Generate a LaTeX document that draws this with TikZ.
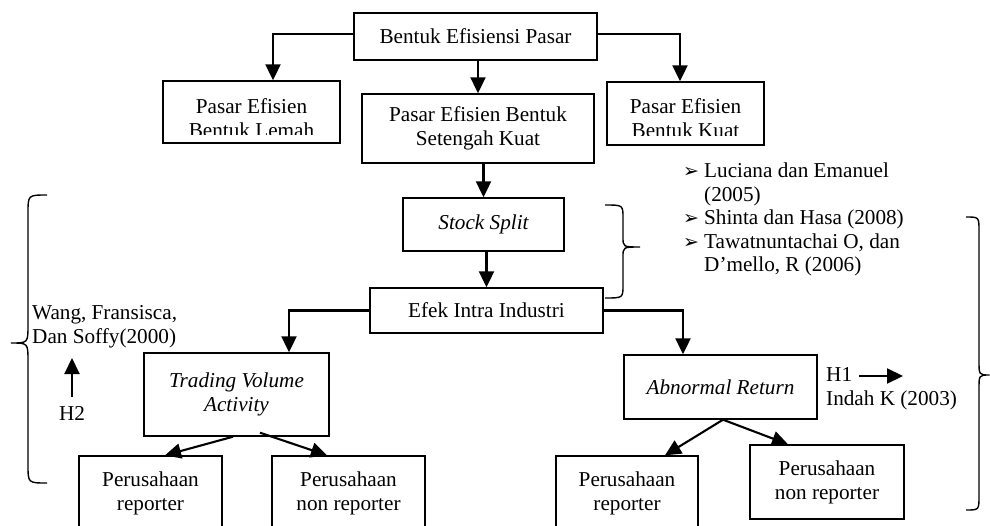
\documentclass[tikz,border=0pt]{standalone}
\usepackage{fontspec}
\setmainfont{Liberation Serif}
\newfontfamily\dejavu{DejaVu Sans}
\usetikzlibrary{arrows.meta,calc}
\newcommand\bul{{\dejavu\fontsize{19}{19}\selectfont ➢}}
\begin{document}
\begin{tikzpicture}[x=1pt,y=-1pt,
  every node/.style={font=\fontsize{21.2}{24}\selectfont},
  box/.style={draw,line width=1.4pt,inner sep=0pt,align=center},
  txt/.style={inner sep=0pt,align=center},
  arr/.style={line width=2.1pt,-{Triangle[width=15pt,length=16pt]}},
  brc/.style={line width=1.4pt}]
\useasboundingbox (0,0) rectangle (990,525);
\fill[white] (0,0) rectangle (990,525);
\clip (0,0) rectangle (990,525);

% boxes
\node[box,minimum width=243pt,minimum height=47pt] (top) at (475.5,36.5) {Bentuk Efisiensi Pasar};
\node[box,minimum width=177pt,minimum height=62pt] (lemah) at (251.5,112) {};
\node[txt] (lemahT) at (251.5,118) {Pasar Efisien\\Bentuk Lemah};
\fill[white] (163.8,135.2) rectangle (339.2,142.2);
\node[box,minimum width=232pt,minimum height=69pt] (semi) at (478,128.5) {Pasar Efisien Bentuk\\Setengah Kuat};
\node[box,minimum width=157pt,minimum height=63pt] (kuat) at (685.5,113.5) {};
\node[txt] (kuatT) at (685.5,118) {Pasar Efisien\\Bentuk Kuat};
\fill[white] (607.8,136) rectangle (763.2,144.2);
\node[box,minimum width=161pt,minimum height=53pt] (stock) at (483.5,224.5) {\itshape Stock Split};
\node[box,minimum width=233pt,minimum height=45pt] (efek) at (486.5,310.5) {Efek Intra Industri};
\node[box,minimum width=185pt,minimum height=83pt] (tv) at (236.5,394.5) {\itshape Trading Volume\\\itshape Activity};
\node[box,minimum width=193pt,minimum height=64pt] (ar) at (720.5,387) {\itshape Abnormal Return};
\node[box,minimum width=143pt,minimum height=74pt] (rep1) at (150.5,493) {Perusahaan\\reporter};
\node[box,minimum width=153pt,minimum height=74pt] (nonrep1) at (348.5,493) {Perusahaan\\non reporter};
\node[box,minimum width=142pt,minimum height=74pt] (rep2) at (627,493) {Perusahaan\\reporter};
\node[box,minimum width=154pt,minimum height=74pt] (nonrep2) at (827,482) {Perusahaan\\non reporter};

% connectors
\draw[arr] ($(top.west)+(0,-2.5)$) -| ($(lemah.north)+(21.5,0)$);
\draw[arr] ($(top.east)+(0,-2.5)$) -| ($(kuat.north)+(-5.5,0)$);
\draw[arr] (semi.north |- top.south) -- (semi.north);
\draw[arr] (stock.north |- semi.south) -- (stock.north);
\draw[arr] (efek.north |- stock.south) -- (efek.north);
\draw[arr] (efek.west) -| ($(tv.north)+(52.5,0)$);
\draw[arr] (efek.east) -| ($(ar.north)+(-37.5,0)$);
\draw[arr] ($(tv.south)+(-3.5,0)$) -- ($(rep1.north)+(14.5,0)$);
\draw[arr] ($(tv.south)+(23.5,-4)$) -- ($(nonrep1.north)+(-21.5,0)$);
\draw[arr] ($(ar.south)+(2.5,0)$) -- ($(rep2.north)+(38,0)$);
\draw[arr] ($(ar.south)+(2.5,0)$) -- ($(nonrep2.north)+(-39,0)$);

% side texts
\node[txt,align=left,anchor=north west] (wang) at (32,305.5) {Wang, Fransisca,\\Dan Soffy(2000)};
\node[txt] (h2) at (72,413) {H2};
\coordinate (h2top) at (72,358);
\draw[arr] ($(h2.north)+(0,-9)$) -- (h2top);
\node[txt,align=left,anchor=north west] (h1) at (826,367.7) {H1\\Indah K (2003)};
\coordinate (h1a) at (859,376);
\coordinate (h1b) at (903,376);
\draw[arr] (h1a) -- (h1b);
\node[txt,align=left,anchor=north west,font=\fontsize{21.2}{23.5}\selectfont] (refs) at (683,161) {%
\begin{tabular}{@{}p{21pt}@{}l@{}}
\bul & Luciana dan Emanuel\\
 & (2005)\\
\bul & Shinta dan Hasa (2008)\\
\bul & Tawatnuntachai O, dan\\
 & D’mello, R (2006)
\end{tabular}};

% braces
\draw[brc] (605,205) .. controls (623,205) .. (623,218) -- (623,237)
  .. controls (623,247) .. (640,247) .. controls (623,247) .. (623,257)
  -- (623,285) .. controls (623,298) .. (605,298);
\draw[brc] (47,195) .. controls (28,195) .. (28,213) -- (28,325)
  .. controls (28,343) .. (11,343) .. controls (28,343) .. (28,361)
  -- (28,465) .. controls (28,483) .. (47,483);
\draw[brc] (966,217) .. controls (979,217) .. (979,231) -- (979,361)
  .. controls (979,375) .. (989.5,375) .. controls (979,375) .. (979,389)
  -- (979,496) .. controls (979,510) .. (966,510);
\end{tikzpicture}
\end{document}
